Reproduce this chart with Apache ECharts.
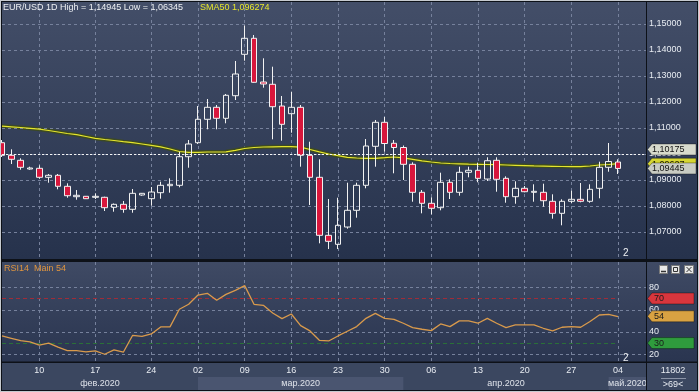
<!DOCTYPE html>
<html><head><meta charset="utf-8">
<script src="https://cdn.jsdelivr.net/npm/echarts@6/dist/echarts.min.js"></script>
<style>html,body{margin:0;padding:0;background:#0d1118;}#c{width:699px;height:392px;}</style>
</head><body><div id="c"></div>
<script>
// ---------- DATA ----------
const categories = [
 '05.02','06.02','07.02','09.02',
 '10.02','11.02','12.02','13.02','14.02','16.02',
 '17.02','18.02','19.02','20.02','21.02','23.02',
 '24.02','25.02','26.02','27.02','28.02',
 '02.03','03.03','04.03','05.03','06.03',
 '09.03','10.03','11.03','12.03','13.03',
 '16.03','17.03','18.03','19.03','20.03',
 '23.03','24.03','25.03','26.03','27.03',
 '30.03','31.03','01.04','02.04','03.04',
 '06.04','07.04','08.04','09.04','10.04',
 '13.04','14.04','15.04','16.04','17.04',
 '20.04','21.04','22.04','23.04','24.04',
 '27.04','28.04','29.04','30.04','01.05',
 '04.05'
];
const padCategories = ['05.05','06.05','07.05'];
const tickDays = ['10.02','17.02','24.02','02.03','09.03','16.03','23.03','30.03','06.04','13.04','20.04','27.04','04.05'];
const months = ['фев.2020','мар.2020','апр.2020','май.2020'];
const monthStarts = ['05.02','02.03','01.04','01.05','07.05'];
const priceTicks = [1.07,1.08,1.09,1.10,1.11,1.12,1.13,1.14,1.15];
const rsiTicks = [20,40,60,80];

const opens = [1.10435,1.09950,1.09758,1.09423,1.09450,1.09104,1.09181,1.08758,1.08358,1.08373,
 1.08335,1.08335,1.07950,1.08065,1.07873,1.08423,1.08281,1.08512,1.08781,1.08796,
 1.09896,1.10435,1.11335,1.11796,1.11373,1.12242,1.13835,1.14450,1.12769,1.12681,
 1.11846,1.11550,1.11796,1.09950,1.09104,1.06873,1.06527,1.07192,1.07835,1.08796,
 1.10296,1.11219,1.10412,1.10250,1.09604,1.08527,1.08104,1.07935,1.08912,1.08527,
 1.09296,1.09373,1.09038,1.09758,1.09065,1.08358,1.08681,1.08527,1.08527,1.08181,
 1.07719,1.08181,1.08258,1.08181,1.08681,1.09488,1.09692];
const closes = [1.09950,1.09796,1.09488,1.09462,1.09104,1.09181,1.08758,1.08396,1.08412,1.08281,
 1.08373,1.07935,1.08065,1.07873,1.08488,1.08488,1.08538,1.08796,1.08835,1.09896,
 1.10385,1.11335,1.11796,1.11373,1.12258,1.13077,1.14450,1.12758,1.12692,1.11819,
 1.11142,1.11796,1.09950,1.09104,1.06873,1.06642,1.07258,1.07835,1.08796,1.10308,
 1.11219,1.10404,1.10250,1.09604,1.08527,1.08104,1.07912,1.08912,1.08527,1.09296,
 1.09373,1.09065,1.09742,1.09027,1.08358,1.08681,1.08550,1.08565,1.08204,1.07719,
 1.08181,1.08258,1.08181,1.08642,1.09488,1.09712,1.09445];
const lows = [1.09885,1.09615,1.09396,1.09396,1.09050,1.08896,1.08642,1.08319,1.08242,1.08269,
 1.08269,1.07808,1.07781,1.07742,1.07742,1.08396,1.08012,1.08281,1.08512,1.08719,
 1.09473,1.10385,1.10950,1.10950,1.11181,1.12077,1.13588,1.12745,1.12550,1.10565,
 1.10512,1.10819,1.09512,1.08038,1.06565,1.06345,1.06345,1.07127,1.07550,1.08681,
 1.09512,1.10088,1.09258,1.09000,1.08165,1.07719,1.07681,1.07835,1.08269,1.08396,
 1.09104,1.08912,1.08962,1.08550,1.08127,1.08088,1.08527,1.08165,1.07973,1.07512,
 1.07258,1.08104,1.08142,1.08127,1.08296,1.09319,1.09231];
const highs = [1.10538,1.10181,1.09835,1.09512,1.09565,1.09231,1.09231,1.08873,1.08615,1.08385,
 1.08488,1.08358,1.08096,1.08192,1.08654,1.08500,1.08731,1.08935,1.09065,1.10088,
 1.10538,1.11846,1.12115,1.11885,1.12308,1.13577,1.14945,1.14577,1.13681,1.13358,
 1.12231,1.12396,1.11885,1.10473,1.09796,1.08269,1.08319,1.08896,1.08896,1.10577,
 1.11308,1.11423,1.10538,1.10327,1.09681,1.08615,1.08335,1.09281,1.09027,1.09512,
 1.09512,1.09665,1.09873,1.09873,1.09142,1.08950,1.08769,1.08835,1.08858,1.08450,
 1.08258,1.08588,1.08885,1.08835,1.09704,1.10423,1.09796];
const sma50 = [1.11069,1.11046,1.11019,1.10988,1.10954,1.10904,1.10846,1.10788,1.10742,1.10673,
 1.10604,1.10558,1.10519,1.10473,1.10435,1.10385,1.10335,1.10277,1.10192,1.10096,
 1.10065,1.10065,1.10077,1.10077,1.10085,1.10142,1.10212,1.10250,1.10269,1.10277,
 1.10281,1.10281,1.10262,1.10173,1.10085,1.10000,1.09935,1.09873,1.09846,1.09835,
 1.09835,1.09858,1.09885,1.09854,1.09796,1.09738,1.09692,1.09654,1.09635,1.09623,
 1.09612,1.09604,1.09596,1.09588,1.09577,1.09565,1.09554,1.09542,1.09535,1.09527,
 1.09519,1.09515,1.09512,1.09538,1.09577,1.09596,1.09627];
const rsi14 = [36.4,34.3,32.2,31.0,28.1,29.9,26.3,23.3,23.3,22.1,
 23.0,20.0,23.9,21.8,37.0,36.1,38.2,44.5,44.5,60.3,
 64.8,73.1,74.6,68.4,73.7,77.3,81.5,64.8,63.9,57.0,
 51.9,56.1,45.7,40.9,32.5,31.9,36.4,40.6,44.8,52.2,
 56.7,52.2,51.3,47.8,43.9,42.4,41.2,47.2,44.8,49.9,
 49.9,47.8,52.2,47.8,43.9,46.3,46.3,46.3,43.3,40.9,
 44.2,44.8,44.2,49.3,55.2,55.8,53.7];
const lineLevel = 1.10175;
const lastPrice = 1.09445;
const smaLast = 1.096274;
const rsiLevels = [70, 30];
const rsiLast = 54;

// ---------- CHART ----------
const FONT = 'Liberation Sans';
const F9 = '9px "Liberation Sans"';
const fmtP = v => Number(v).toFixed(5).replace('.', ',');
const allCats = categories.concat(padCategories);
const candleData = opens.map((o, i) => [o, closes[i], lows[i], highs[i]]);
const GRIDC = '#76819c';
const dash = {color: GRIDC, type: [3, 3], width: 1};
const isTick = (i, v) => tickDays.indexOf(v) >= 0;
const grad = (a, b) => ({type: 'linear', x: 0, y: 0, x2: 0, y2: 1, colorStops: [{offset: 0, color: a}, {offset: 1, color: b}]});
const mainBg = grad('#434e68', '#26324c');
const rsiBg = grad('#3f4a64', '#2a3550');
const CLEAR = 'rgba(0,0,0,0)';

function xAxisFor(gi, showLabels, showSplit) {
  return {
    type: 'category', gridIndex: gi, data: allCats, boundaryGap: false,
    axisLine: {show: false}, axisTick: {show: false},
    axisLabel: {show: showLabels, interval: isTick, formatter: v => v.slice(0, 2),
      color: '#e8ecf2', fontSize: 9, fontFamily: FONT, margin: 5},
    splitLine: {show: showSplit, interval: isTick, lineStyle: dash}
  };
}

const monthAreas = months.map((m, k) => [
  {name: m, xAxis: monthStarts[k], itemStyle: {color: (k % 2 === 1) ? '#4a5570' : CLEAR}},
  {xAxis: monthStarts[k + 1]}
]);

const baseGraphics = [
  {type: 'rect', z: -10, shape: {x: 647, y: 2, width: 50, height: 257}, style: {fill: mainBg}},
  {type: 'rect', z: -10, shape: {x: 647, y: 262, width: 50, height: 99.5}, style: {fill: rsiBg}},
  {type: 'rect', z: -10, shape: {x: 2, y: 363, width: 644, height: 27}, style: {fill: '#3b4760'}},
  {type: 'rect', z: 100, shape: {x: 646, y: 363, width: 52, height: 28}, style: {fill: '#0d1118'}},
  {type: 'rect', z: 101, shape: {x: 647, y: 363, width: 50, height: 27}, style: {fill: '#3b4760'}},
  {type: 'text', z: 102, x: 673, y: 366, style: {text: '11802', fill: '#e8ecf2', font: F9, align: 'center'}},
  {type: 'line', z: 102, shape: {x1: 661, y1: 378.5, x2: 686, y2: 378.5}, style: {stroke: '#8a93a6', lineWidth: 1}},
  {type: 'text', z: 102, x: 673, y: 380, style: {text: '>69<', fill: '#e8ecf2', font: F9, align: 'center'}},
  {type: 'text', z: 50, x: 3, y: 3, style: {text: 'EUR/USD 1D High = 1,14945 Low = 1,06345', fill: '#eef0f3', font: F9}},
  {type: 'text', z: 50, x: 200, y: 3, style: {text: 'SMA50 1,096274', fill: '#e6e62c', font: F9}},
  {type: 'text', z: 50, x: 4, y: 264, style: {text: 'RSI14  Main 54', fill: '#e0953f', font: F9}},
  {type: 'text', z: 50, x: 623, y: 248, style: {text: '2', fill: '#eef0f3', font: '10px "Liberation Sans"'}},
  {type: 'text', z: 50, x: 623, y: 353, style: {text: '2', fill: '#eef0f3', font: '10px "Liberation Sans"'}},
  {type: 'rect', z: 50, shape: {x: 659.5, y: 265.5, width: 8, height: 8}, style: {fill: '#e8e8e8', stroke: '#7a7a7a', lineWidth: 1}},
  {type: 'line', z: 51, shape: {x1: 661, y1: 271.5, x2: 666, y2: 271.5}, style: {stroke: '#333', lineWidth: 1.5}},
  {type: 'rect', z: 50, shape: {x: 671.5, y: 265.5, width: 8, height: 8}, style: {fill: '#e8e8e8', stroke: '#7a7a7a', lineWidth: 1}},
  {type: 'rect', z: 51, shape: {x: 673.5, y: 267.5, width: 4, height: 4}, style: {fill: 'none', stroke: '#333', lineWidth: 1}},
  {type: 'rect', z: 50, shape: {x: 684.5, y: 265.5, width: 9, height: 8}, style: {fill: '#e8e8e8', stroke: '#7a7a7a', lineWidth: 1}},
  {type: 'line', z: 51, shape: {x1: 686.5, y1: 267, x2: 691.5, y2: 272}, style: {stroke: '#333', lineWidth: 1}},
  {type: 'line', z: 51, shape: {x1: 691.5, y1: 267, x2: 686.5, y2: 272}, style: {stroke: '#333', lineWidth: 1}},
  {type: 'rect', z: 200, shape: {x: 0, y: 0, width: 699, height: 392}, style: {fill: 'none', stroke: '#c6cacf', lineWidth: 2}}
];

const option = {
  animation: false,
  backgroundColor: '#0d1118',
  grid: [
    {left: 2, right: 53, top: 2, bottom: 133, show: true, backgroundColor: mainBg, borderWidth: 0},
    {left: 2, right: 53, top: 262, bottom: 30.5, show: true, backgroundColor: rsiBg, borderWidth: 0},
    {left: 2, right: 53, top: 377, bottom: 2, show: false}
  ],
  xAxis: [xAxisFor(0, false, true), xAxisFor(1, true, true), Object.assign(xAxisFor(2, false, false), {show: false})],
  yAxis: [
    {type: 'value', gridIndex: 0, position: 'right', min: 1.05962, max: 1.15846,
      axisLine: {show: false}, axisTick: {show: false, customValues: priceTicks},
      axisLabel: {customValues: priceTicks, formatter: fmtP, color: '#e8ecf2', fontSize: 9, fontFamily: FONT, margin: 3},
      splitLine: {show: false}},
    {type: 'value', gridIndex: 1, position: 'right', min: 13.5, max: 102.7,
      axisLine: {show: false}, axisTick: {show: false, customValues: rsiTicks},
      axisLabel: {customValues: rsiTicks, color: '#e8ecf2', fontSize: 9, fontFamily: FONT, margin: 3},
      splitLine: {show: false}},
    {type: 'value', gridIndex: 2, min: 0, max: 1, show: false}
  ],
  series: [
    {
      type: 'line', name: 'smaGlow', xAxisIndex: 0, yAxisIndex: 0, data: sma50, symbol: 'none', silent: true,
      lineStyle: {color: '#3d4a1e', width: 4, opacity: 0.9}, z: 2
    },
    {
      type: 'line', name: 'SMA50', xAxisIndex: 0, yAxisIndex: 0, data: sma50, symbol: 'none', silent: true,
      lineStyle: {color: '#e6e62c', width: 1.2}, z: 3
    },
    {
      type: 'candlestick', name: 'EUR/USD', xAxisIndex: 0, yAxisIndex: 0, data: candleData, barWidth: 6, clip: true, z: 4,
      itemStyle: {color: CLEAR, color0: '#d8173c', borderColor: '#f2f2f2', borderColor0: '#f2f2f2', borderWidth: 1},
      markLine: {silent: true, symbol: 'none', animation: false, label: {show: false},
        data: [{yAxis: lineLevel, lineStyle: {color: '#f4f4f4', type: [2, 2], width: 1}}]}
    },
    {
      type: 'line', name: 'RSI14', xAxisIndex: 1, yAxisIndex: 1, data: rsi14, symbol: 'none', silent: true,
      lineStyle: {color: '#d99a4c', width: 1.3}, z: 4,
      markLine: {silent: true, symbol: 'none', animation: false, z: 3, label: {show: false},
        data: [
          [{xAxis: categories[0], yAxis: rsiLevels[0], lineStyle: {color: '#a02c38', type: [4, 3], width: 1}},
           {xAxis: categories[categories.length - 1], yAxis: rsiLevels[0]}],
          [{xAxis: categories[0], yAxis: rsiLevels[1], lineStyle: {color: '#2a7038', type: [4, 3], width: 1}},
           {xAxis: categories[categories.length - 1], yAxis: rsiLevels[1]}]
        ]}
    },
    {
      type: 'line', name: 'months', xAxisIndex: 2, yAxisIndex: 2, data: [], silent: true,
      markArea: {silent: true, label: {show: true, position: 'inside', color: '#dfe3ea', fontSize: 9, fontFamily: FONT},
        data: monthAreas}
    }
  ],
  graphic: baseGraphics
};
const chart = echarts.init(document.getElementById('c'));
chart.setOption(option);

// horizontal grid lines (as short dash segments) and right-hand value tags, placed through the axes' own scales
const extra = [];
const py = (axis, v) => chart.convertToPixel({yAxisIndex: axis}, v);
function hGrid(y) {
  const yy = Math.round(y) + 0.5;
  extra.push({type: 'line', z: 3, silent: true, shape: {x1: 2, y1: yy, x2: 646, y2: yy},
    style: {stroke: GRIDC, lineWidth: 1, lineDash: [3, 3], opacity: 1}});
}
priceTicks.forEach(t => hGrid(py(0, t)));
rsiTicks.forEach(t => hGrid(py(1, t)));
let tz = 60;
function addTag(y, text, fill, fg, right, textX) {
  const h = 5.5;
  extra.push({type: 'polygon', z: tz++, silent: true,
    shape: {points: [[647.5, y], [652, y - h], [right, y - h], [right, y + h], [652, y + h]]},
    style: {fill: fill, stroke: 'rgba(0,0,0,0.35)', lineWidth: 1}});
  extra.push({type: 'text', z: tz++, silent: true, x: textX, y: y + 0.5,
    style: {text: text, fill: fg, font: F9, verticalAlign: 'middle'}});
}
addTag(py(0, smaLast), fmtP(smaLast), '#d6d633', '#1c1c00', 696, 652);
addTag(py(0, lastPrice), fmtP(lastPrice), '#c9ccc3', '#111', 696, 652);
addTag(py(0, lineLevel), fmtP(lineLevel), '#d7dacd', '#111', 696, 652);
addTag(py(1, rsiLevels[0]), String(rsiLevels[0]), '#d8363d', '#1a1a1a', 694, 654);
addTag(py(1, rsiLast), String(rsiLast), '#d9a242', '#1a1a1a', 694, 654);
addTag(py(1, rsiLevels[1]), String(rsiLevels[1]), '#2f9b3d', '#1a1a1a', 694, 654);
chart.setOption({graphic: baseGraphics.concat(extra)});
</script>
</body></html>
